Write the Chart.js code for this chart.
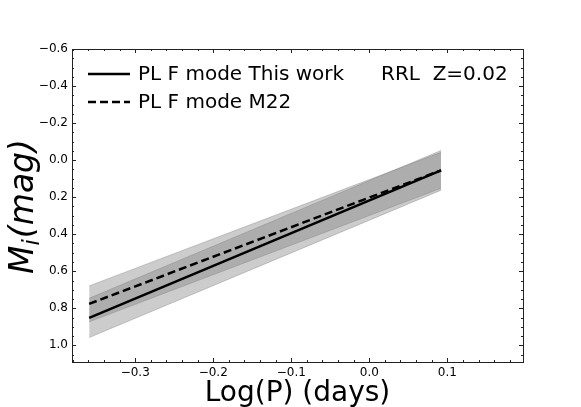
<!DOCTYPE html>
<html>
<head>
<meta charset="utf-8">
<script src="https://cdn.jsdelivr.net/npm/chart.js@4/dist/chart.umd.min.js"></script>
<style>
  body { margin: 0; background: #fff; }
</style>
</head>
<body>
<canvas id="plGraph" width="581" height="407"></canvas>
<script>
// log period of the two ends of each relation
const logP = [-0.359, 0.092];

// PL F mode, this work
const thisWork = [0.852, 0.055];
const thisWorkUpper = [0.746, -0.052];
const thisWorkLower = [0.958, 0.162];

// PL F mode, M22
const m22 = [0.776, 0.055];
const m22Upper = [0.679, -0.042];
const m22Lower = [0.873, 0.152];

const xTicks = [-0.3, -0.2, -0.1, 0.0, 0.1];
const yTicks = [-0.6, -0.4, -0.2, 0.0, 0.2, 0.4, 0.6, 0.8, 1.0];

const FONT = 'DejaVu Sans';

function pts(ys) {
    return logP.map((x, i) => ({ x: x, y: ys[i] }));
}

function fmt(v) {
    return (v < 0 ? '\u2212' : '') + Math.abs(v).toFixed(1);
}

const bandColor = 'rgba(128, 128, 128, 0.4)';

// ticks pointing inwards on all four sides, plus the frame, legend and y title
const framePlugin = {
    id: 'frame',
    afterDraw(chart) {
        const ctx = chart.ctx;
        const a = chart.chartArea;
        const xs = chart.scales.x;
        const ys = chart.scales.y;

        ctx.save();
        ctx.strokeStyle = '#222';
        ctx.lineWidth = 1;

        // minor + major ticks
        ctx.beginPath();
        for (let v = -0.38; v <= 0.2; v += 0.02) {
            const px = Math.round(xs.getPixelForValue(v)) + 0.5;
            if (px < a.left || px > a.right) continue;
            const major = xTicks.some(t => Math.abs(t - v) < 1e-6);
            const len = major ? 4 : 2;
            ctx.moveTo(px, a.bottom); ctx.lineTo(px, a.bottom - len);
            ctx.moveTo(px, a.top); ctx.lineTo(px, a.top + len);
        }
        for (let v = -0.6; v <= 1.1; v += 0.05) {
            const py = Math.round(ys.getPixelForValue(v)) + 0.5;
            if (py < a.top || py > a.bottom) continue;
            const major = yTicks.some(t => Math.abs(t - v) < 1e-6);
            const len = major ? 4 : 2;
            ctx.moveTo(a.left, py); ctx.lineTo(a.left + len, py);
            ctx.moveTo(a.right, py); ctx.lineTo(a.right - len, py);
        }
        ctx.stroke();

        ctx.strokeRect(Math.round(a.left) + 0.5, Math.round(a.top) + 0.5,
            Math.round(a.right - a.left), Math.round(a.bottom - a.top));

        // legend
        const ds = chart.data.datasets;
        ctx.fillStyle = '#000';
        ctx.font = '20px "' + FONT + '"';
        ctx.textBaseline = 'middle';
        [0, 1].forEach((i, row) => {
            const y = 74 + row * 28;
            ctx.beginPath();
            ctx.setLineDash(ds[i].borderDash || []);
            ctx.lineWidth = ds[i].borderWidth;
            ctx.strokeStyle = ds[i].borderColor;
            ctx.moveTo(88, y); ctx.lineTo(130, y);
            ctx.stroke();
            ctx.fillText(ds[i].label, 138, y + 1);
        });
        ctx.setLineDash([]);
        ctx.fillText('RRL  Z=0.02', 381, 75);

        // y axis title M_i(mag)
        ctx.translate(33, 274);
        ctx.rotate(-Math.PI / 2);
        ctx.textBaseline = 'alphabetic';
        ctx.font = 'italic 33px "' + FONT + '"';
        ctx.fillText('M', 0, 0);
        let w = ctx.measureText('M').width;
        ctx.font = 'italic 23px "' + FONT + '"';
        ctx.fillText('i', w, 6);
        w += ctx.measureText('i').width + 1;
        ctx.font = 'italic 33px "' + FONT + '"';
        ctx.fillText('(mag)', w, 0);
        ctx.restore();
    }
};

new Chart(document.getElementById('plGraph'), {
    type: 'line',
    data: {
        datasets: [{
            label: 'PL F mode This work',
            data: pts(thisWork),
            borderColor: '#000',
            borderWidth: 2.5,
            pointRadius: 0,
            fill: false,
            order: 0
        },
        {
            label: 'PL F mode M22',
            data: pts(m22),
            borderColor: '#000',
            borderWidth: 2.5,
            borderDash: [8, 4],
            pointRadius: 0,
            fill: false,
            order: 0
        },
        {
            data: pts(thisWorkUpper),
            borderColor: bandColor,
            backgroundColor: bandColor,
            borderWidth: 1,
            pointRadius: 0,
            fill: '+1',
            order: 1
        },
        {
            data: pts(thisWorkLower),
            borderColor: bandColor,
            borderWidth: 1,
            pointRadius: 0,
            fill: false,
            order: 1
        },
        {
            data: pts(m22Upper),
            borderColor: bandColor,
            backgroundColor: bandColor,
            borderWidth: 1,
            pointRadius: 0,
            fill: '+1',
            order: 1
        },
        {
            data: pts(m22Lower),
            borderColor: bandColor,
            borderWidth: 1,
            pointRadius: 0,
            fill: false,
            order: 1
        }]
    },
    options: {
        responsive: false,
        animation: false,
        layout: {
            padding: { top: 49, right: 58, left: 0, bottom: 0 }
        },
        plugins: {
            legend: { display: false },
            tooltip: { enabled: false }
        },
        scales: {
            x: {
                type: 'linear',
                min: -0.381,
                max: 0.197,
                afterFit: s => { s.height = 45; },
                afterBuildTicks: s => { s.ticks = xTicks.map(v => ({ value: v })); },
                grid: { display: false, drawTicks: false },
                border: { display: false },
                ticks: {
                    padding: 4,
                    color: '#000',
                    font: { family: FONT, size: 12 },
                    callback: v => fmt(v)
                },
                title: {
                    display: true,
                    text: 'Log(P) (days)',
                    color: '#000',
                    font: { family: FONT, size: 28 },
                    padding: { top: 0, bottom: -4 }
                }
            },
            y: {
                type: 'linear',
                reverse: true,
                min: -0.6,
                max: 1.09,
                afterFit: s => { s.width = 72; },
                afterBuildTicks: s => { s.ticks = yTicks.map(v => ({ value: v })); },
                grid: { display: false, drawTicks: false },
                border: { display: false },
                ticks: {
                    padding: 4,
                    color: '#000',
                    font: { family: FONT, size: 12 },
                    callback: v => fmt(v)
                }
            }
        }
    },
    plugins: [framePlugin]
});
</script>
</body>
</html>
